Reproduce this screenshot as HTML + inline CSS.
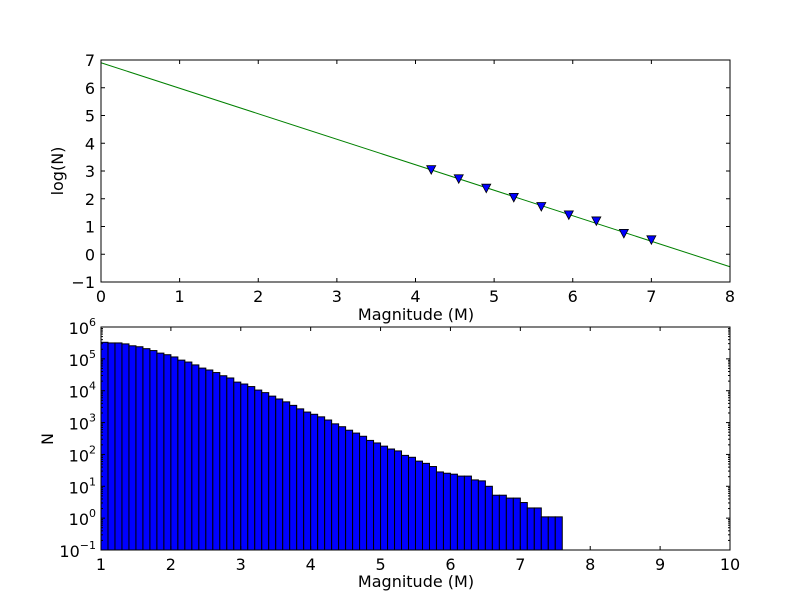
<!DOCTYPE html>
<html><head><meta charset="utf-8"><style>
body{margin:0;background:#fff}
svg{display:block;font-family:"DejaVu Sans","Liberation Sans",sans-serif}
</style></head><body>
<svg id="chart" width="812" height="612" viewBox="0 0 812 612"></svg>
<script>
const lineX=[0,8];
const lineY=[6.9,-0.45];
const ptX=[4.2,4.55,4.9,5.25,5.6,5.95,6.3,6.65,7.0];
const ptY=[3.05,2.72,2.38,2.05,1.72,1.42,1.2,0.75,0.52];
const topXTicks=[0,1,2,3,4,5,6,7,8];
const topYTicks=[-1,0,1,2,3,4,5,6,7];
const binStart=1.0, binWidth=0.1;
const logCounts=[5.52,5.50,5.50,5.47,5.41,5.38,5.32,5.26,5.18,5.13,5.06,4.96,4.90,4.81,4.71,4.65,4.57,4.47,4.40,4.27,4.21,4.13,4.02,3.94,3.83,3.74,3.65,3.54,3.43,3.33,3.26,3.18,3.08,2.96,2.87,2.76,2.67,2.57,2.44,2.36,2.26,2.17,2.11,1.97,1.91,1.79,1.72,1.62,1.45,1.41,1.38,1.32,1.32,1.20,1.17,1.00,0.72,0.72,0.63,0.63,0.49,0.32,0.32,0.04,0.04,0.04];
const botXTicks=[1,2,3,4,5,6,7,8,9,10];
const botYExp=[-1,0,1,2,3,4,5,6];

const NS="http://www.w3.org/2000/svg";
const svg=document.getElementById('chart');
function mk(t,a,p){const e=document.createElementNS(NS,t);for(const k in a)e.setAttribute(k,a[k]);(p||svg).appendChild(e);return e;}

const T={l:101,r:730,t:60,b:282};
const tx=v=>T.l+(v-0)/8*(T.r-T.l);
const ty=v=>T.b-(v+1)/8*(T.b-T.t);
const gTop=mk('g',{});


const fit=mk('line',{x1:tx(lineX[0]),y1:ty(lineY[0]),x2:tx(lineX[1]),y2:ty(lineY[1]),stroke:'#008000','stroke-width':1},gTop);


ptX.forEach((x,i)=>{const cx=tx(x),cy=ty(ptY[i]);
 const m=mk('polygon',{points:`${cx-4.5},${cy-4} ${cx+4.5},${cy-4} ${cx},${cy+4.5}`,fill:'#0000ff',stroke:'#000','stroke-width':0.8},gTop);
 
 });
mk('rect',{x:T.l,y:T.t,width:T.r-T.l,height:T.b-T.t,fill:'none',stroke:'#000','stroke-width':1},gTop);
topXTicks.forEach(v=>{const x=tx(v);
 mk('line',{x1:x,y1:T.b,x2:x,y2:T.b-4,stroke:'#000'},gTop);mk('line',{x1:x,y1:T.t,x2:x,y2:T.t+4,stroke:'#000'},gTop);
 const t=mk('text',{x:x,y:T.b+20,'text-anchor':'middle','font-size':16},gTop);t.textContent=v;
 
 });
topYTicks.forEach(v=>{const y=ty(v);
 mk('line',{x1:T.l,y1:y,x2:T.l+4,y2:y,stroke:'#000'},gTop);mk('line',{x1:T.r,y1:y,x2:T.r-4,y2:y,stroke:'#000'},gTop);
 const t=mk('text',{x:T.l-6,y:y+6,'text-anchor':'end','font-size':16},gTop);t.textContent=v<0?'\u2212'+(-v):v;
 
 });
let t1=mk('text',{x:416,y:320,'text-anchor':'middle','font-size':16},gTop);t1.textContent='Magnitude (M)';


let t2=mk('text',{x:63,y:171,'text-anchor':'middle','font-size':16,transform:'rotate(-90 63 171)'},gTop);t2.textContent='log(N)';



const B={l:101,r:730,t:327,b:550};
const bx=v=>B.l+(v-1)/9*(B.r-B.l);
const by=lv=>B.b-(lv+1)/7*(B.b-B.t);
const gBot=mk('g',{});


logCounts.forEach((lv,i)=>{const x0=bx(binStart+i*binWidth),x1=bx(binStart+(i+1)*binWidth),y=by(lv);
 const r=mk('rect',{x:x0,y:y,width:x1-x0,height:B.b-y,fill:'#0000ff',stroke:'#000','stroke-width':1},gBot);
 
 });
mk('rect',{x:B.l,y:B.t,width:B.r-B.l,height:B.b-B.t,fill:'none',stroke:'#000','stroke-width':1},gBot);
botXTicks.forEach(v=>{const x=bx(v);
 mk('line',{x1:x,y1:B.b,x2:x,y2:B.b-4,stroke:'#000'},gBot);mk('line',{x1:x,y1:B.t,x2:x,y2:B.t+4,stroke:'#000'},gBot);
 const t=mk('text',{x:x,y:B.b+20,'text-anchor':'middle','font-size':16},gBot);t.textContent=v;
 
 });
botYExp.forEach(e=>{const y=by(e);
 mk('line',{x1:B.l,y1:y,x2:B.l+4,y2:y,stroke:'#000'},gBot);mk('line',{x1:B.r,y1:y,x2:B.r-4,y2:y,stroke:'#000'},gBot);
 if(e<6){for(let k=2;k<10;k++){const yy=by(e+Math.log10(k));
  mk('line',{x1:B.l,y1:yy,x2:B.l+2,y2:yy,stroke:'#000'},gBot);mk('line',{x1:B.r,y1:yy,x2:B.r-2,y2:yy,stroke:'#000'},gBot);}}
 const t=mk('text',{x:B.l-5,y:y+7,'text-anchor':'end','font-size':16},gBot);
 
 
 t.appendChild(document.createTextNode('10'));
 const s=mk('tspan',{dy:-8,'font-size':11},t);s.textContent=e<0?'\u2212'+(-e):e;});
let t3=mk('text',{x:416,y:587,'text-anchor':'middle','font-size':16},gBot);t3.textContent='Magnitude (M)';


let t4=mk('text',{x:53,y:439,'text-anchor':'middle','font-size':16,transform:'rotate(-90 53 439)'},gBot);t4.textContent='N';


</script>
</body></html>
